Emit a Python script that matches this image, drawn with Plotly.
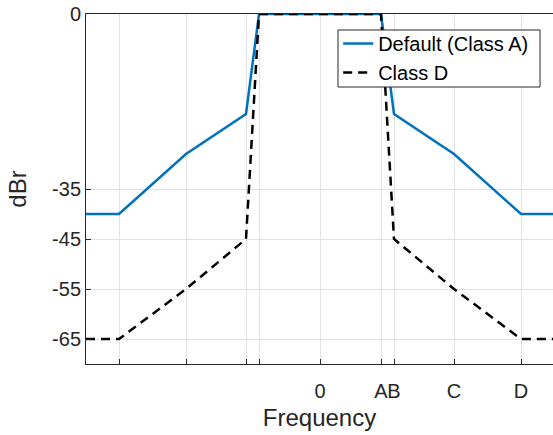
import plotly.graph_objects as go

# Data (frequency in arbitrary units, symmetric around 0)
freq = [-234, -201, -134, -74, -61, 61, 74, 134, 201, 234]
class_a = [-40, -40, -28, -20, 0, 0, -20, -28, -40, -40]
class_d = [-65, -65, -55, -45, 0, 0, -45, -55, -65, -65]

x_tickvals = [-201, -134, -74, -61, 0, 61, 74, 134, 201]
x_ticktext = ["", "", "", "", "0", "A", "B", "C", "D"]
y_tickvals = [-65, -55, -45, -35, 0]
y_ticktext = ["-65", "-55", "-45", "-35", "0"]

AX = "#262626"
FONT = "Liberation Sans, Arial, Helvetica, sans-serif"

fig = go.Figure()
fig.add_trace(go.Scatter(x=freq, y=class_a, mode="lines", name="Default (Class A)",
                         line=dict(color="#0072BD", width=2.5)))
fig.add_trace(go.Scatter(x=freq, y=class_d, mode="lines", name="Class D",
                         line=dict(color="black", width=2.5, dash="9px,6px")))

# legend frame
fig.add_shape(type="rect", xref="paper", yref="paper",
              x0=0.5396, x1=0.9722, y0=0.7914, y1=0.9543,
              fillcolor="white", line=dict(color=AX, width=1), layer="above")

fig.update_layout(
    width=553, height=435,
    margin=dict(l=86, r=0, t=14, b=71),
    paper_bgcolor="white", plot_bgcolor="white",
    font=dict(family=FONT, size=20, color=AX),
    legend=dict(x=0.54, y=0.9714, xanchor="left", yanchor="top",
                bgcolor="rgba(0,0,0,0)", borderwidth=0,
                font=dict(size=20, color="black"),
                tracegroupgap=0, itemwidth=30),
    showlegend=True,
)
fig.update_xaxes(
    range=[-234, 233], tickmode="array", tickvals=x_tickvals, ticktext=x_ticktext,
    tickangle=0, ticks="inside", ticklen=5, tickcolor=AX,
    showline=True, linecolor=AX, linewidth=1, mirror=True,
    showgrid=True, gridcolor="#e3e3e3", gridwidth=1, zeroline=False,
    tickfont=dict(size=20, color=AX), ticklabelstandoff=9,
    title=dict(text="Frequency", font=dict(size=24, color=AX), standoff=8),
)
fig.update_yaxes(
    range=[-70, 0], tickmode="array", tickvals=y_tickvals, ticktext=y_ticktext,
    ticks="inside", ticklen=5, tickcolor=AX,
    showline=True, linecolor=AX, linewidth=1, mirror=False,
    showgrid=True, gridcolor="#e3e3e3", gridwidth=1, zeroline=False,
    tickfont=dict(size=20, color=AX),
    title=dict(text="dBr", font=dict(size=24, color=AX), standoff=18),
)

fig.write_html("out.html")
